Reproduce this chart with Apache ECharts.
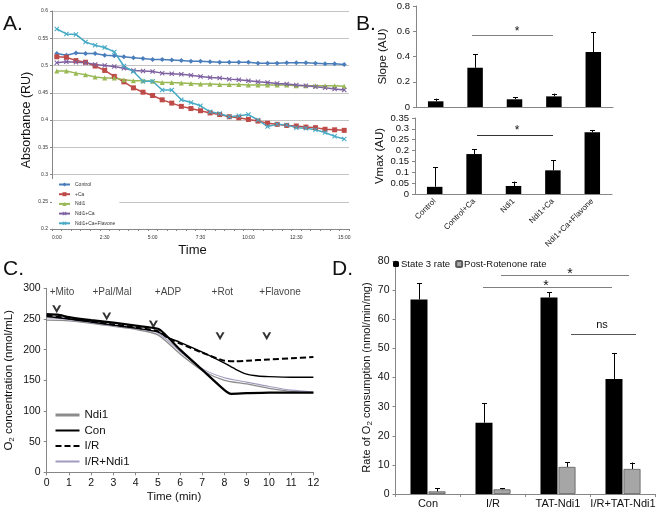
<!DOCTYPE html>
<html><head><meta charset="utf-8">
<script src="https://cdn.jsdelivr.net/npm/echarts@6/dist/echarts.min.js"></script>
<style>html,body{margin:0;padding:0;background:#fff}#c{width:662px;height:511px}</style>
</head><body><div id="c"></div>
<script>
const FONT = '"Liberation Sans", Arial, sans-serif';

// ---------- Panel A data ----------
const aTimes = ['0:00','0:30','1:00','1:30','2:00','2:30','3:00','3:30','4:00','4:30','5:00','5:30','6:00','6:30','7:00','7:30','8:00','8:30','9:00','9:30','10:00','10:30','11:00','11:30','12:00','12:30','13:00','13:30','14:00','14:30','15:00'];
const aControl = [0.522,0.519,0.523,0.522,0.522,0.519,0.518,0.516,0.514,0.513,0.511,0.511,0.510,0.509,0.508,0.508,0.507,0.506,0.506,0.506,0.506,0.504,0.504,0.504,0.505,0.505,0.505,0.504,0.503,0.503,0.502];
const aCa = [0.516,0.515,0.509,0.506,0.499,0.491,0.480,0.470,0.459,0.451,0.445,0.437,0.431,0.425,0.421,0.417,0.413,0.410,0.406,0.404,0.401,0.398,0.394,0.392,0.390,0.389,0.387,0.386,0.383,0.382,0.381];
const aNdi1 = [0.490,0.490,0.486,0.483,0.479,0.477,0.477,0.474,0.472,0.472,0.471,0.469,0.469,0.468,0.467,0.466,0.466,0.465,0.465,0.465,0.464,0.464,0.464,0.464,0.464,0.463,0.463,0.463,0.463,0.463,0.462];
const aNdi1Ca = [0.505,0.507,0.506,0.505,0.502,0.500,0.498,0.495,0.491,0.490,0.489,0.486,0.485,0.484,0.482,0.480,0.478,0.477,0.475,0.474,0.472,0.470,0.469,0.467,0.466,0.464,0.463,0.461,0.459,0.457,0.455];
const aFlavone = [0.567,0.558,0.557,0.543,0.537,0.533,0.525,0.499,0.489,0.471,0.471,0.455,0.455,0.437,0.432,0.426,0.415,0.412,0.406,0.408,0.410,0.400,0.388,0.392,0.391,0.386,0.385,0.382,0.377,0.370,0.365];
const aNames = ['Control','+Ca','Ndi1','Ndi1+Ca','Ndi1+Ca+Flavone'];

// ---------- Panel B data ----------
const bCats = ['Control','Control+Ca','Ndi1','Ndi1+Ca','Ndi1+Ca+Flavone'];
const bSlope = [0.045,0.311,0.061,0.084,0.436];
const bSlopeErr = [0.021,0.109,0.016,0.022,0.155];
const bVmax = [0.033,0.184,0.037,0.109,0.284];
const bVmaxErr = [0.090,0.023,0.020,0.046,0.011];

// ---------- Panel C data ([min, nmol/mL]) ----------
const cNdi1 = [[0,248],[1,247],[2,243],[3,238],[4,233],[5,224],[6,193],[7,166],[8,150],[9,144],[10,137],[11,132],[12,130]];
const cIRNdi1 = [[0,252],[1,249],[2,244],[3,239],[4,234],[5,227],[6,197],[7,169],[8,154],[9,147],[10,140],[11,134],[12,131]];
const cCon = [[0,258],[0.5,257],[1,253],[2,248],[3,244],[4,239],[5,234],[5.3,226],[6,200],[7,167],[8,134],[8.3,128],[9,129],[10,130],[11,130],[12,130]];
const cConB = [[0,254],[1,250],[2,245],[3,240],[4,235],[5,229],[5.5,219],[6,212],[7,196],[8,178],[8.5,168],[9,160],[9.5,157],[10,156],[11,155],[12,155]];
const cIR = [[0,256],[1,251],[2,246],[3,241],[4,236],[5,230],[5.5,218],[6,210],[7,195],[8,182],[8.5,181],[9,182],[10,184],[11,186],[12,188]];
const cAddX = [0.45,2.7,4.8,7.8,9.9];
const cAddY = [266,254,241,222,222];
const cLabelX = [0.69,2.94,5.46,7.9,10.5];
const cLabels = ['+Mito','+Pal/Mal','+ADP','+Rot','+Flavone'];

// ---------- Panel D data ----------
const dCats = ['Con','I/R','TAT-Ndi1','I/R+TAT-Ndi1'];
const dState3 = [66.8,24.5,67.5,39.5];
const dState3Err = [5.5,6.6,1.7,8.8];
const dPostRot = [0.9,1.6,9.3,8.6];
const dPostRotErr = [1.0,0.3,1.6,2.2];

const xMark = 'path://M0,1.5L1.5,0L5,3.5L8.5,0L10,1.5L6.5,5L10,8.5L8.5,10L5,6.5L1.5,10L0,8.5L3.5,5Z';
const chevron = 'path://M0,0L3,0L6,5L9,0L12,0L6,10Z';

function errSeries(xIdx, yIdx, vals, errs, offset, cap) {
  return {
    type: 'custom', xAxisIndex: xIdx, yAxisIndex: yIdx, z: 5, silent: true,
    encode: {x: 0, y: [1, 2]},
    data: vals.map((v, i) => [i, v, v + errs[i]]),
    renderItem(params, api) {
      const p0 = api.coord([api.value(0), api.value(1)]);
      const p1 = api.coord([api.value(0), api.value(2)]);
      const x = Math.round(p0[0] + offset) + 0.5;
      return {type: 'group', children: [
        {type: 'line', shape: {x1: x, y1: p0[1], x2: x, y2: p1[1]}, style: {stroke: '#000', lineWidth: 1}},
        {type: 'line', shape: {x1: x - cap, y1: Math.round(p1[1]) + 0.5, x2: x + cap, y2: Math.round(p1[1]) + 0.5}, style: {stroke: '#000', lineWidth: 1}}
      ]};
    }
  };
}

const axisGray = {lineStyle: {color: '#868686', width: 1}};
const lbl = (s) => ({fontSize: s, color: '#111', fontFamily: FONT});
const noSym = {color: 'rgba(0,0,0,0)', borderWidth: 0, opacity: 0};

const chart = echarts.init(document.getElementById('c'), null, {renderer: 'canvas'});
const option = {
  animation: false,
  backgroundColor: '#fff',
  textStyle: {fontFamily: FONT},
  grid: [
    {left: 52, top: 11, width: 297, height: 218, outerBoundsMode: 'none'},
    {left: 416, top: 6, width: 197, height: 101, outerBoundsMode: 'none'},
    {left: 415, top: 118, width: 197, height: 76, outerBoundsMode: 'none'},
    {left: 46.7, top: 288.3, width: 266.7, height: 184, outerBoundsMode: 'none'},
    {left: 395.5, top: 261, width: 260, height: 233, outerBoundsMode: 'none'}
  ],
  xAxis: [
    {gridIndex: 0, type: 'category', data: aTimes, boundaryGap: true,
     axisLine: axisGray, axisTick: {show: true, interval: 0, length: 2, lineStyle: {color: '#868686'}},
     axisLabel: {interval: 4, fontSize: 5, color: '#333', margin: 6, fontFamily: FONT},
     name: 'Time', nameLocation: 'middle', nameGap: 15, nameTextStyle: {fontSize: 13, color: '#111', fontFamily: FONT, padding: [0, 16, 0, 0]}},
    {gridIndex: 1, type: 'category', data: bCats, axisLine: axisGray, axisTick: {show: false}, axisLabel: {show: false}},
    {gridIndex: 2, type: 'category', data: bCats, axisLine: axisGray, axisTick: {show: false},
     axisLabel: {interval: 0, rotate: 45, fontSize: 8, color: '#111', margin: 6, fontFamily: FONT}},
    {gridIndex: 3, type: 'value', min: 0, max: 12, interval: 1, axisLine: {lineStyle: {color: '#868686'}},
     axisTick: {show: true, length: 3, lineStyle: {color: '#868686'}}, splitLine: {show: false},
     axisLabel: Object.assign(lbl(10.5), {margin: 5}),
     name: 'Time (min)', nameLocation: 'middle', nameGap: 19, nameTextStyle: {fontSize: 11.5, color: '#111', fontFamily: FONT, padding: [0, 12, 0, 0]}},
    {gridIndex: 4, type: 'category', data: dCats, axisLine: axisGray,
     axisTick: {show: true, length: 3, lineStyle: {color: '#868686'}},
     axisLabel: Object.assign(lbl(11), {interval: 0, margin: 4})}
  ],
  yAxis: [
    {gridIndex: 0, type: 'value', min: 0.2, max: 0.6, interval: 0.05,
     axisLine: {show: true, lineStyle: {color: '#868686'}}, axisTick: {show: true, length: 2, lineStyle: {color: '#868686'}},
     splitLine: {show: true, lineStyle: {color: '#c4c4c4', width: 1}},
     axisLabel: {fontSize: 5, color: '#333', margin: 4, fontFamily: FONT},
     name: 'Absorbance (RU)', nameLocation: 'middle', nameGap: 19, nameTextStyle: {fontSize: 12.5, color: '#111', fontFamily: FONT}},
    {gridIndex: 1, type: 'value', min: 0, max: 0.8, interval: 0.2,
     axisLine: {show: true, lineStyle: {color: '#868686'}}, axisTick: {show: true, length: 3, lineStyle: {color: '#868686'}},
     splitLine: {show: false}, axisLabel: Object.assign(lbl(9.5), {margin: 6}),
     name: 'Slope (AU)', nameLocation: 'middle', nameGap: 27, nameTextStyle: {fontSize: 11.5, color: '#111', fontFamily: FONT}},
    {gridIndex: 2, type: 'value', min: 0, max: 0.35, interval: 0.05,
     axisLine: {show: true, lineStyle: {color: '#868686'}}, axisTick: {show: true, length: 3, lineStyle: {color: '#868686'}},
     splitLine: {show: false}, axisLabel: Object.assign(lbl(9.5), {margin: 6}),
     name: 'Vmax (AU)', nameLocation: 'middle', nameGap: 29, nameTextStyle: {fontSize: 11.5, color: '#111', fontFamily: FONT}},
    {gridIndex: 3, type: 'value', min: 0, max: 300, interval: 50,
     axisLine: {show: true, lineStyle: {color: '#868686'}}, axisTick: {show: true, length: 3, lineStyle: {color: '#868686'}},
     splitLine: {show: false}, axisLabel: Object.assign(lbl(10.5), {margin: 6}),
     name: '{a|O}{s|2}{a| concentration (nmol/mL)}', nameLocation: 'middle', nameGap: 31,
     nameTextStyle: {fontSize: 11.5, color: '#111', fontFamily: FONT,
       rich: {a: {fontSize: 11.5, color: '#111', fontFamily: FONT}, s: {fontSize: 8, color: '#111', fontFamily: FONT, verticalAlign: 'bottom', padding: [6, 0, 0, 0]}}}},
    {gridIndex: 4, type: 'value', min: 0, max: 80, interval: 10,
     axisLine: {show: true, lineStyle: {color: '#868686'}}, axisTick: {show: true, length: 3, lineStyle: {color: '#868686'}},
     splitLine: {show: false}, axisLabel: Object.assign(lbl(10.5), {margin: 6}),
     name: '{a|Rate of O}{s|2}{a| consumption (nmol/min/mg)}', nameLocation: 'middle', nameGap: 22,
     nameTextStyle: {fontSize: 11, color: '#111', fontFamily: FONT,
       rich: {a: {fontSize: 11, color: '#111', fontFamily: FONT}, s: {fontSize: 8, color: '#111', fontFamily: FONT, verticalAlign: 'bottom', padding: [6, 0, 0, 0]}}}}
  ],
  legend: [
    {data: aNames, orient: 'vertical', left: 52, top: 179, padding: [3, 4, 3, 6],
     backgroundColor: '#fff', itemWidth: 11, itemHeight: 5, itemGap: 4.7,
     textStyle: {fontSize: 5, color: '#333', fontFamily: FONT}, selectedMode: false},
    {data: [{name: 'Ndi1 ', itemStyle: noSym, lineStyle: {width: 3, color: '#8c8c8c'}}, {name: 'Con', itemStyle: noSym}, {name: 'I/R', itemStyle: noSym}, {name: 'I/R+Ndi1', itemStyle: noSym}],
     itemStyle: noSym,
     orient: 'vertical', left: 54, top: 409, padding: 0, itemWidth: 24, itemHeight: 10, itemGap: 3.5,
     textStyle: {fontSize: 11.5, color: '#111', fontFamily: FONT}, selectedMode: false},
    {data: ['State 3 rate', 'Post-Rotenone rate'], orient: 'horizontal', left: 393, top: 259, padding: 0,
     itemWidth: 6, itemHeight: 6, itemGap: 5,
     textStyle: {fontSize: 9.5, color: '#111', fontFamily: FONT, padding: [0, 0, 0, -3]}, selectedMode: false}
  ],
  series: [
    // Panel A
    {name: aNames[0], type: 'line', xAxisIndex: 0, yAxisIndex: 0, data: aControl, symbol: 'diamond', symbolSize: 5,
     lineStyle: {color: '#4a7ebb', width: 1.5}, itemStyle: {color: '#4a7ebb'}},
    {name: aNames[1], type: 'line', xAxisIndex: 0, yAxisIndex: 0, data: aCa, symbol: 'rect', symbolSize: 5,
     lineStyle: {color: '#be4b48', width: 1.5}, itemStyle: {color: '#be4b48'}},
    {name: aNames[2], type: 'line', xAxisIndex: 0, yAxisIndex: 0, data: aNdi1, symbol: 'triangle', symbolSize: 5,
     lineStyle: {color: '#98b954', width: 1.5}, itemStyle: {color: '#98b954'}},
    {name: aNames[3], type: 'line', xAxisIndex: 0, yAxisIndex: 0, data: aNdi1Ca, symbol: xMark, symbolSize: 5,
     lineStyle: {color: '#7d60a0', width: 1.5}, itemStyle: {color: '#7d60a0'}},
    {name: aNames[4], type: 'line', xAxisIndex: 0, yAxisIndex: 0, data: aFlavone, symbol: xMark, symbolSize: 5,
     lineStyle: {color: '#46aac5', width: 1.5}, itemStyle: {color: '#46aac5'}},
    // Panel B
    {name: 'Slope', type: 'bar', xAxisIndex: 1, yAxisIndex: 1, data: bSlope, barWidth: 15.5, itemStyle: {color: '#000'}},
    errSeries(1, 1, bSlope, bSlopeErr, 0, 2.5),
    {name: 'Vmax', type: 'bar', xAxisIndex: 2, yAxisIndex: 2, data: bVmax, barWidth: 15.5, itemStyle: {color: '#000'}},
    errSeries(2, 2, bVmax, bVmaxErr, 0, 2.5),
    // Panel C
    {name: 'Ndi1 ', type: 'line', xAxisIndex: 3, yAxisIndex: 3, data: cNdi1, smooth: 0.25, symbol: 'none',
     lineStyle: {color: '#8c8c8c', width: 1.3}, itemStyle: {color: '#8c8c8c'}},
    {name: 'I/R+Ndi1', type: 'line', xAxisIndex: 3, yAxisIndex: 3, data: cIRNdi1, smooth: 0.25, symbol: 'none',
     lineStyle: {color: '#a29bc0', width: 1.1}, itemStyle: {color: '#a29bc0'}},
    {name: 'Con trace 2', type: 'line', xAxisIndex: 3, yAxisIndex: 3, data: cConB, smooth: 0.25, symbol: 'none',
     lineStyle: {color: '#000', width: 1.4}, itemStyle: {color: '#000'}},
    {name: 'Con', type: 'line', xAxisIndex: 3, yAxisIndex: 3, data: cCon, smooth: 0.2, symbol: 'none',
     lineStyle: {color: '#000', width: 2.2}, itemStyle: {color: '#000'}},
    {name: 'I/R', type: 'line', xAxisIndex: 3, yAxisIndex: 3, data: cIR, smooth: 0.25, symbol: 'none',
     lineStyle: {color: '#000', width: 2, type: [6, 3]}, itemStyle: {color: '#000'}},
    {name: 'additions', type: 'scatter', xAxisIndex: 3, yAxisIndex: 3, silent: true,
     data: cAddX.map((x, i) => [x, cAddY[i]]), symbol: chevron, symbolSize: [9, 8], itemStyle: {color: '#000'}},
    {name: 'addition labels', type: 'scatter', xAxisIndex: 3, yAxisIndex: 3, silent: true, symbolSize: 0,
     data: cLabelX.map((x, i) => ({value: [x, 294], label: {formatter: cLabels[i]}})),
     label: {show: true, position: 'inside', fontSize: 10, color: '#111', fontFamily: FONT}},
    // Panel D
    {name: 'State 3 rate', type: 'bar', xAxisIndex: 4, yAxisIndex: 4, data: dState3, barWidth: 17, barGap: '6%',
     itemStyle: {color: '#000'}},
    {name: 'Post-Rotenone rate', type: 'bar', xAxisIndex: 4, yAxisIndex: 4, data: dPostRot, barWidth: 17, barGap: '6%',
     itemStyle: {color: '#a6a6a6', borderColor: '#5a5a5a', borderWidth: 0.8}},
    errSeries(4, 4, dState3, dState3Err, -9, 2.5),
    errSeries(4, 4, dPostRot, dPostRotErr, 9, 2.5)
  ],
  graphic: [
    {type: 'text', left: 3, top: 14, style: {text: 'A.', fontSize: 21, fill: '#111', fontFamily: FONT}},
    {type: 'text', left: 356, top: 14, style: {text: 'B.', fontSize: 21, fill: '#111', fontFamily: FONT}},
    {type: 'text', left: 3, top: 259, style: {text: 'C.', fontSize: 21, fill: '#111', fontFamily: FONT}},
    {type: 'text', left: 332, top: 259, style: {text: 'D.', fontSize: 21, fill: '#111', fontFamily: FONT}},
    // Panel B significance
    {type: 'line', shape: {x1: 472, y1: 35.5, x2: 553, y2: 35.5}, style: {stroke: '#7f7f7f', lineWidth: 1}},
    {type: 'text', x: 517, y: 32, style: {text: '*', fontSize: 12, fill: '#111', fontFamily: FONT, align: 'center', verticalAlign: 'middle'}},
    {type: 'line', shape: {x1: 477, y1: 135.5, x2: 553, y2: 135.5}, style: {stroke: '#333', lineWidth: 1}},
    {type: 'text', x: 517, y: 131, style: {text: '*', fontSize: 12, fill: '#111', fontFamily: FONT, align: 'center', verticalAlign: 'middle'}},
    // Panel D significance
    {type: 'line', shape: {x1: 501, y1: 275.5, x2: 629, y2: 275.5}, style: {stroke: '#7f7f7f', lineWidth: 1}},
    {type: 'text', x: 570, y: 274, style: {text: '*', fontSize: 14, fill: '#111', fontFamily: FONT, align: 'center', verticalAlign: 'middle'}},
    {type: 'line', shape: {x1: 483, y1: 287.5, x2: 612, y2: 287.5}, style: {stroke: '#7f7f7f', lineWidth: 1}},
    {type: 'text', x: 546, y: 286, style: {text: '*', fontSize: 14, fill: '#111', fontFamily: FONT, align: 'center', verticalAlign: 'middle'}},
    {type: 'line', shape: {x1: 571, y1: 334.5, x2: 636, y2: 334.5}, style: {stroke: '#555', lineWidth: 1}},
    {type: 'text', x: 602, y: 325, style: {text: 'ns', fontSize: 11, fill: '#111', fontFamily: FONT, align: 'center', verticalAlign: 'middle'}}
  ]
};
chart.setOption(option);
</script>
</body></html>
